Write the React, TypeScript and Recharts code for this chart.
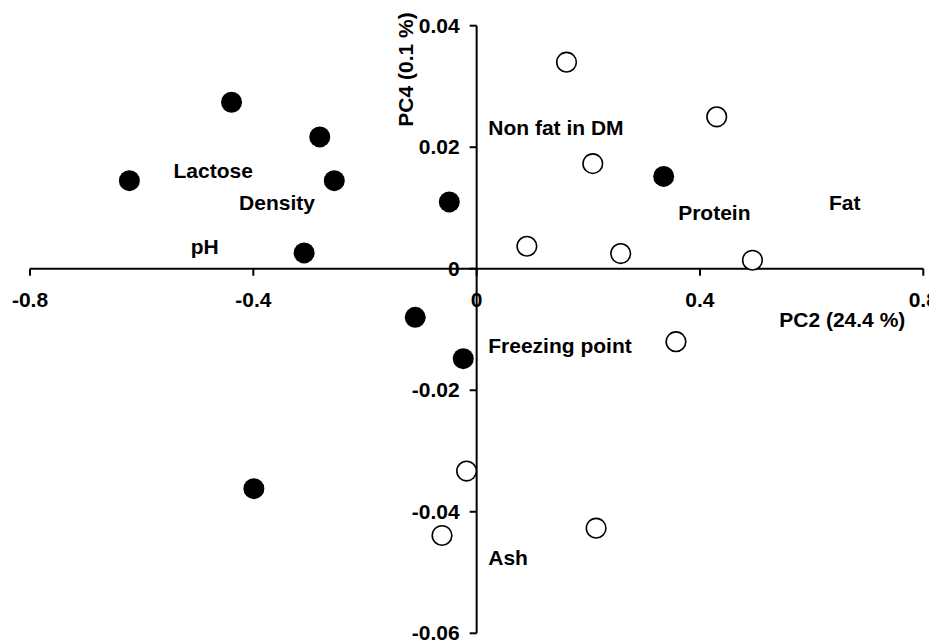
import React from 'react';
import { ScatterChart, Scatter, XAxis, YAxis, ReferenceLine } from 'recharts';

// Loadings on PC2 (x) and PC4 (y)
const filledPoints = [
  { x: -0.439, y: 0.0274 },
  { x: -0.281, y: 0.0217 },
  { x: -0.622, y: 0.0145 },
  { x: -0.255, y: 0.0145 },
  { x: -0.049, y: 0.011 },
  { x: -0.309, y: 0.0026 },
  { x: -0.11, y: -0.008 },
  { x: -0.024, y: -0.0148 },
  { x: -0.399, y: -0.0362 },
  { x: 0.335, y: 0.0152 },
];

const openPoints = [
  { x: 0.161, y: 0.034 },
  { x: 0.43, y: 0.025 },
  { x: 0.208, y: 0.0173 },
  { x: 0.09, y: 0.0037 },
  { x: 0.258, y: 0.0025 },
  { x: 0.494, y: 0.0014 },
  { x: 0.357, y: -0.012 },
  { x: -0.018, y: -0.0333 },
  { x: -0.062, y: -0.0439 },
  { x: 0.214, y: -0.0427 },
];

const variableLabels = [
  { x: -0.543, y: 0.015, name: 'Lactose' },
  { x: -0.4255, y: 0.0096, name: 'Density' },
  { x: -0.512, y: 0.0025, name: 'pH' },
  { x: 0.0208, y: 0.022, name: 'Non fat in DM' },
  { x: 0.361, y: 0.0081, name: 'Protein' },
  { x: 0.631, y: 0.0096, name: 'Fat' },
  { x: 0.0208, y: -0.0139, name: 'Freezing point' },
  { x: 0.0208, y: -0.0487, name: 'Ash' },
];

const xTicks = [-0.8, -0.4, 0, 0.4, 0.8];
const xTickLabels = ['-0.8', '-0.4', '0', '0.4', '0.8'];
const yTicks = [0.04, 0.02, 0, -0.02, -0.04, -0.06];
const yTickLabels = ['0.04', '0.02', '0', '-0.02', '-0.04', '-0.06'];

const xTitle = [{ x: 0.542, y: -0.00955, name: 'PC2 (24.4 %)' }];
const yTitle = [{ x: -0.1135, y: 0.0328, name: 'PC4 (0.1 %)' }];

const xTickData = xTicks.map((v, i) => ({ x: v, y: 0, name: xTickLabels[i] }));
const yTickData = yTicks.map((v, i) => ({ x: 0, y: v, name: yTickLabels[i] }));

const FONT = '"Liberation Sans", Arial, Helvetica, sans-serif';
const FS = 21;

const FilledDot = (p: any) => <circle cx={p.cx} cy={p.cy} r={10.5} fill="#000" />;
const OpenDot = (p: any) => (
  <circle cx={p.cx} cy={p.cy} r={9.8} fill="#fff" stroke="#000" strokeWidth={1.6} />
);
const LabelText = (p: any) => (
  <text x={p.cx} y={p.cy} fontFamily={FONT} fontSize={FS} fontWeight="bold" fill="#000">
    {p.payload.name}
  </text>
);
const XTick = (p: any) => (
  <g>
    <line x1={p.cx} y1={p.cy} x2={p.cx} y2={p.cy + 7} stroke="#000" strokeWidth={2} />
    <text x={p.cx} y={p.cy + 38} textAnchor="middle" fontFamily={FONT} fontSize={FS} fontWeight="bold" fill="#000">
      {p.payload.name}
    </text>
  </g>
);
const YTick = (p: any) => (
  <g>
    <line x1={p.cx - 7} y1={p.cy} x2={p.cx} y2={p.cy} stroke="#000" strokeWidth={2} />
    <text x={p.cx - 17} y={p.cy + 7} textAnchor="end" fontFamily={FONT} fontSize={FS} fontWeight="bold" fill="#000">
      {p.payload.name}
    </text>
  </g>
);
const YTitleText = (p: any) => (
  <text
    x={p.cx}
    y={p.cy}
    textAnchor="middle"
    transform={`rotate(-90, ${p.cx}, ${p.cy})`}
    fontFamily={FONT}
    fontSize={FS}
    fontWeight="bold"
    fill="#000"
  >
    {p.payload.name}
  </text>
);

export default function App() {
  return (
    <ScatterChart
      width={929}
      height={634}
      margin={{ top: 17.7, right: 13.7, bottom: 8.7, left: 22 }}
      style={{ background: '#fff' }}
    >
      <XAxis type="number" dataKey="x" domain={[-0.8, 0.8]} ticks={xTicks} tickCount={5} hide />
      <YAxis type="number" dataKey="y" domain={[-0.06, 0.04]} ticks={yTicks} tickCount={6} hide />
      <ReferenceLine y={0} stroke="#000" strokeWidth={2} />
      <ReferenceLine x={0} stroke="#000" strokeWidth={2} />
      <Scatter data={xTickData} shape={XTick} isAnimationActive={false} />
      <Scatter data={yTickData} shape={YTick} isAnimationActive={false} />
      <Scatter data={filledPoints} shape={FilledDot} isAnimationActive={false} />
      <Scatter data={openPoints} shape={OpenDot} isAnimationActive={false} />
      <Scatter data={variableLabels} shape={LabelText} isAnimationActive={false} />
      <Scatter data={xTitle} shape={LabelText} isAnimationActive={false} />
      <Scatter data={yTitle} shape={YTitleText} isAnimationActive={false} />
    </ScatterChart>
  );
}
